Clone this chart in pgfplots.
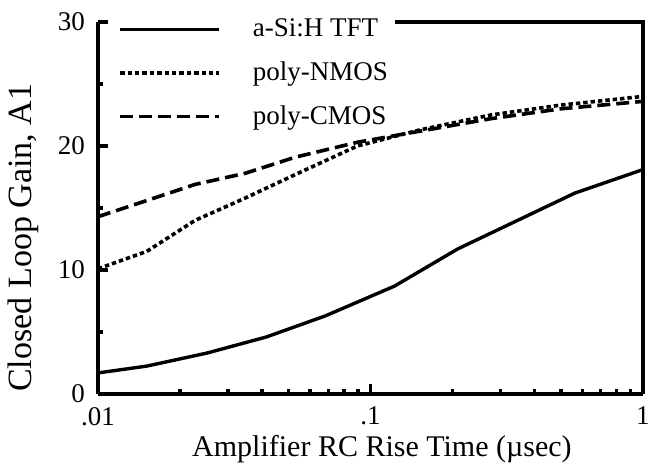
\documentclass[border=0pt]{standalone}
\usepackage{fontspec}
\setmainfont{Liberation Serif}
\usepackage{pgfplots}
\pgfplotsset{compat=1.18}
\begin{document}
\begin{tikzpicture}
\begin{axis}[
  at={(0,0)}, anchor=south west,
  scale only axis, width=272.5pt, height=186pt,
  xmode=log, xmin=0.01, xmax=1, ymin=0, ymax=30,
  axis x line=bottom, axis y line=left,
  axis line style={-, line width=2pt},
  clip=false,
  tick align=inside,
  major tick length=5pt, minor tick length=2.5pt,
  every tick/.style={black, line width=1.6pt},
  xtick={0.01,0.1,1}, xticklabels={.01,.1,1},
  ytick={0,10,20,30}, minor ytick={5,15,25},
  tick label style={font=\fontsize{13.5}{15}\selectfont},
  /pgf/number format/assume math mode=true,
  xticklabel style={yshift=-3pt},
  yticklabel style={xshift=-3pt},
  xlabel={Amplifier RC Rise Time (µsec)},
  ylabel={Closed Loop Gain, A1},
  xlabel style={at={(axis description cs:0.521,-0.168)}, anchor=base, font=\fontsize{15}{17}\selectfont},
  ylabel style={at={(axis description cs:-0.1376,0.42)}, anchor=center, font=\fontsize{17}{19}\selectfont},
  legend cell align=left,
  legend image code/.code={\draw[#1] (0pt,0pt) -- (49.5pt,0pt);},
  legend style={at={(axis description cs:0.0367,1.02)}, anchor=north west, draw=none, fill=none,
    font=\fontsize{13.5}{15}\selectfont, row sep=7pt, inner sep=0pt,
    /tikz/every odd column/.append style={column sep=14pt}},
]
\addplot[black, line width=1.7pt] coordinates {
(0.01,1.7) (0.0151,2.25) (0.0251,3.3) (0.0415,4.6) (0.0683,6.3) (0.1225,8.7) (0.209,11.7) (0.562,16.2) (1,18.1)};
\addlegendentry{a-Si:H TFT}
\addplot[black, line width=1.8pt, dash pattern=on 2.2pt off 1.5pt] coordinates {
(0.01,10.1) (0.0151,11.5) (0.0227,14.0) (0.0347,15.8) (0.053,17.7) (0.0895,20.0) (0.152,21.3) (0.276,22.5) (0.5,23.3) (1,24.0)};
\addlegendentry{poly-NMOS}
\addplot[black, line width=1.8pt, dash pattern=on 6.5pt off 3pt] coordinates {
(0.01,14.3) (0.0151,15.6) (0.0227,16.9) (0.0347,17.8) (0.053,19.1) (0.0895,20.3) (0.152,21.2) (0.276,22.2) (0.5,23.0) (1,23.6)};
\addlegendentry{poly-CMOS}
\draw[line width=2pt] (axis cs:0.123,30) -- (axis cs:1,30) -- (axis cs:1,0);
\end{axis}
\pgfresetboundingbox
\path (-49pt,-36.5pt) rectangle (275.5pt,197pt);
\end{tikzpicture}
\end{document}
